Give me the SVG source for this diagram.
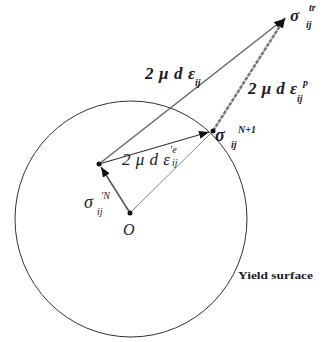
<svg xmlns="http://www.w3.org/2000/svg" width="322" height="342" viewBox="0 0 322 342">
<defs>
<style>
.t{font-family:"Liberation Serif","Times New Roman",serif;fill:#1a1a2e;}
.bi{font-weight:bold;font-style:italic;}
.i{font-style:italic;}
.b{font-weight:bold;}
</style>
<marker id="ah" viewBox="0 0 10 8" markerWidth="10" markerHeight="8" refX="10" refY="4" orient="auto" markerUnits="userSpaceOnUse">
<path d="M0,0 L10,4 L0,8 z" fill="#111"/>
</marker>
</defs>
<rect width="322" height="342" fill="#fff"/>
<g id="yield-surface">
<ellipse cx="131" cy="219" rx="116" ry="118" fill="none" stroke="#333" stroke-width="1"/>
<text class="t b" x="238" y="279" font-size="11" textLength="75" lengthAdjust="spacingAndGlyphs">Yield surface</text>
</g>
<g id="connectors" fill="none">
<line x1="130" y1="213" x2="212" y2="132" stroke="#888" stroke-width="1"/>
<line x1="130" y1="213" x2="101" y2="167" stroke="#555" stroke-width="1.5" marker-end="url(#ah)"/>
<line x1="99" y1="164" x2="209" y2="132" stroke="#333" stroke-width="1.2" marker-end="url(#ah)"/>
<line x1="99" y1="164" x2="284" y2="19" stroke="#666" stroke-width="1.5" marker-end="url(#ah)"/>
<line x1="213" y1="131" x2="285" y2="18" stroke="#777" stroke-width="2.5" stroke-dasharray="4,1" marker-end="url(#ah)"/>
</g>
<g id="node-O">
<circle cx="130" cy="213" r="2.5" fill="#111"/>
<text class="t i" x="123" y="235" font-size="16">O</text>
</g>
<g id="node-sigmaN">
<circle cx="99" cy="164" r="2.5" fill="#111"/>
<text class="t i" x="84" y="208" font-size="18">σ</text>
<text class="t i" x="101" y="199" font-size="10">'N</text>
<text class="t i" x="97" y="215" font-size="10">ij</text>
</g>
<g id="node-sigmaN1">
<circle cx="213" cy="131" r="2.5" fill="#111"/>
<text class="t bi" x="215" y="141" font-size="18">σ</text>
<text class="t bi" x="238" y="133" font-size="10">N+1</text>
<text class="t bi" x="231" y="148" font-size="10">ij</text>
</g>
<g id="node-sigmaTr">
<text class="t bi" x="290" y="21" font-size="17">σ</text>
<text class="t bi" x="309" y="11" font-size="10">tr</text>
<text class="t bi" x="306" y="28" font-size="10">ij</text>
</g>
<g id="labels">
<text class="t bi" x="145" y="79" font-size="17" textLength="50" lengthAdjust="spacing">2μdε</text>
<text class="t bi" x="195" y="86" font-size="10">ij</text>
<text class="t bi" x="248" y="94" font-size="17" textLength="49" lengthAdjust="spacing">2μdε</text>
<text class="t bi" x="303" y="86" font-size="10">p</text>
<text class="t bi" x="297" y="102" font-size="10">ij</text>
<text class="t i" x="122" y="165" font-size="17" textLength="48" lengthAdjust="spacing">2μdε</text>
<text class="t i" x="170" y="153" font-size="10">'e</text>
<text class="t i" x="172" y="166" font-size="10">ij</text>
</g>
</svg>
